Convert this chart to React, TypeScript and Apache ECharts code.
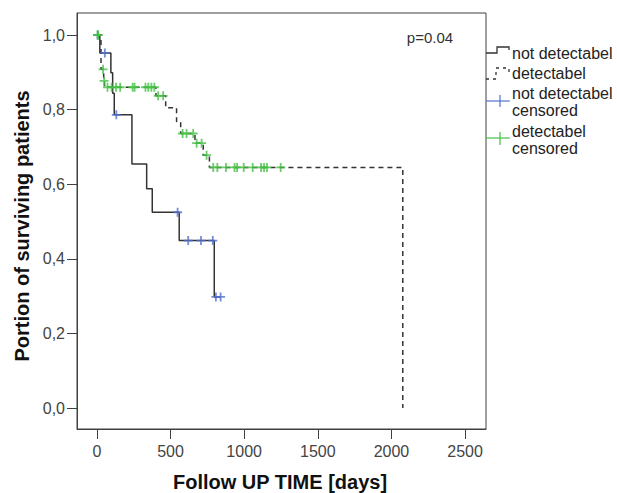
import React, { useEffect, useRef } from "react";
import * as echarts from "echarts";

// ---- data ----
const xTicks = [0, 500, 1000, 1500, 2000, 2500];
const yTicks = [0, 0.2, 0.4, 0.6, 0.8, 1.0];

// "not detectabel" group: step curve (time in days, survival after the step)
const notDetTimes = [0, 20, 95, 107, 118, 238, 338, 376, 559, 797, 840];
const notDetSurv = [1, 0.952, 0.899, 0.844, 0.786, 0.654, 0.588, 0.525, 0.449, 0.298, 0.298];
const notDetCensorTimes = [5, 54, 132, 548, 620, 707, 787, 808, 840];
const notDetCensorSurv = [1, 0.952, 0.786, 0.525, 0.449, 0.449, 0.449, 0.298, 0.298];

// "detectabel" group
const detTimes = [0, 28, 46, 52, 401, 467, 541, 569, 666, 722, 764, 2077];
const detSurv = [1, 0.908, 0.877, 0.86, 0.837, 0.805, 0.768, 0.736, 0.71, 0.678, 0.645, 0];
const detCensorTimes = [
  5, 9, 42, 49, 72, 100, 130, 158, 243, 256, 330, 349, 370, 390, 416, 450, 582, 609, 654,
  677, 711, 745, 790, 818, 876, 935, 952, 997, 1058, 1115, 1135, 1155, 1248,
];
const detCensorSurv = [
  1, 1, 0.908, 0.877, 0.86, 0.86, 0.86, 0.86, 0.86, 0.86, 0.86, 0.86, 0.86, 0.86, 0.837, 0.837,
  0.736, 0.736, 0.736, 0.71, 0.71, 0.678, 0.645, 0.645, 0.645, 0.645, 0.645, 0.645, 0.645,
  0.645, 0.645, 0.645, 0.645,
];

const pValue = "p=0.04";
const legendLabels = ["not detectabel", "detectabel", "not detectabel", "censored", "detectabel", "censored"];

const FONT = "'Liberation Sans', Arial, sans-serif";
const LINE = "#333333";
const BLUE = "#5070d0";
const GREEN = "#44c044";
const AXIS = "#404040";
const PLUS = "path://M4,0H6V4H10V6H6V10H4V6H0V4H4Z";

const zip = (a: number[], b: number[]) => a.map((v, i) => [v, b[i]]);

export default function App() {
  const ref = useRef<HTMLDivElement>(null);
  useEffect(() => {
    const chart = echarts.init(ref.current!, null, { renderer: "svg" });
    chart.setOption({
      animation: false,
      backgroundColor: "#ffffff",
      grid: {
        left: 77,
        top: 13,
        width: 409,
        height: 416,
        show: true,
        borderColor: AXIS,
        borderWidth: 1,
        backgroundColor: "transparent",
      },
      xAxis: {
        type: "value",
        min: -135,
        max: 2642,
        axisLine: { show: true, onZero: false, lineStyle: { color: AXIS, width: 1 } },
        axisTick: { show: true, length: 10, customValues: xTicks, lineStyle: { color: AXIS, width: 1 } },
        axisLabel: {
          customValues: xTicks,
          margin: 14,
          fontSize: 16,
          color: "#444",
          fontFamily: FONT,
          formatter: (v: number) => String(Math.round(v)),
        },
        splitLine: { show: false },
      },
      yAxis: {
        type: "value",
        min: -0.056,
        max: 1.059,
        axisLine: { show: true, onZero: false, lineStyle: { color: AXIS, width: 1 } },
        axisTick: { show: true, length: 10, customValues: yTicks, lineStyle: { color: AXIS, width: 1 } },
        axisLabel: {
          customValues: yTicks,
          margin: 12,
          fontSize: 16,
          color: "#444",
          fontFamily: FONT,
          formatter: (v: number) => v.toFixed(1).replace(".", ","),
        },
        splitLine: { show: false },
      },
      series: [
        {
          type: "line",
          step: "end",
          data: zip(notDetTimes, notDetSurv),
          showSymbol: false,
          symbol: "none",
          lineStyle: { color: LINE, width: 1.5 },
          z: 2,
        },
        {
          type: "line",
          step: "end",
          data: zip(detTimes, detSurv),
          showSymbol: false,
          symbol: "none",
          lineStyle: { color: LINE, width: 1.5, type: [5, 4] },
          z: 2,
        },
        {
          type: "scatter",
          data: zip(notDetCensorTimes, notDetCensorSurv),
          symbol: PLUS,
          symbolSize: 9,
          itemStyle: { color: BLUE },
          z: 3,
        },
        {
          type: "scatter",
          data: zip(detCensorTimes, detCensorSurv),
          symbol: PLUS,
          symbolSize: 9,
          itemStyle: { color: GREEN },
          z: 3,
        },
      ],
      graphic: [
        {
          type: "text",
          x: 22,
          y: 226,
          rotation: Math.PI / 2,
          style: {
            text: "Portion of surviving patients",
            font: `bold 20px ${FONT}`,
            fill: "#111",
            align: "center",
            verticalAlign: "middle",
          },
        },
        {
          type: "text",
          x: 280,
          y: 482,
          style: {
            text: "Follow UP TIME [days]",
            font: `bold 20px ${FONT}`,
            fill: "#111",
            align: "center",
            verticalAlign: "middle",
          },
        },
        {
          type: "text",
          x: 430,
          y: 37,
          style: { text: pValue, font: `15px ${FONT}`, fill: "#333", align: "center", verticalAlign: "middle" },
        },
        // legend item 1: solid step
        {
          type: "polyline",
          shape: { points: [[486, 53], [497, 53], [497, 47], [509, 47], [509, 50]] },
          style: { stroke: LINE, lineWidth: 1.3, fill: null },
        },
        {
          type: "text",
          x: 512,
          y: 53,
          style: { text: legendLabels[0], font: `16px ${FONT}`, fill: "#222", verticalAlign: "middle" },
        },
        // legend item 2: dashed step
        {
          type: "polyline",
          shape: { points: [[486, 79], [496, 79], [496, 68], [509, 68], [509, 74]] },
          style: { stroke: LINE, lineWidth: 1.3, fill: null, lineDash: [3, 4] },
        },
        {
          type: "text",
          x: 512,
          y: 73,
          style: { text: legendLabels[1], font: `16px ${FONT}`, fill: "#222", verticalAlign: "middle" },
        },
        // legend item 3: blue censor
        { type: "line", shape: { x1: 486, y1: 101, x2: 510, y2: 101 }, style: { stroke: BLUE, lineWidth: 1.2 } },
        { type: "line", shape: { x1: 500, y1: 95, x2: 500, y2: 107 }, style: { stroke: BLUE, lineWidth: 1.2 } },
        {
          type: "text",
          x: 512,
          y: 93,
          style: { text: legendLabels[2], font: `16px ${FONT}`, fill: "#222", verticalAlign: "middle" },
        },
        {
          type: "text",
          x: 512,
          y: 110,
          style: { text: legendLabels[3], font: `16px ${FONT}`, fill: "#222", verticalAlign: "middle" },
        },
        // legend item 4: green censor
        { type: "line", shape: { x1: 486, y1: 138, x2: 510, y2: 138 }, style: { stroke: GREEN, lineWidth: 1.2 } },
        { type: "line", shape: { x1: 500, y1: 132, x2: 500, y2: 145 }, style: { stroke: GREEN, lineWidth: 1.2 } },
        {
          type: "text",
          x: 512,
          y: 131,
          style: { text: legendLabels[4], font: `16px ${FONT}`, fill: "#222", verticalAlign: "middle" },
        },
        {
          type: "text",
          x: 512,
          y: 148,
          style: { text: legendLabels[5], font: `16px ${FONT}`, fill: "#222", verticalAlign: "middle" },
        },
      ],
    });
    return () => chart.dispose();
  }, []);
  return (
    <div
      ref={ref}
      style={{ position: "absolute", left: 0, top: 0, width: 617, height: 493, background: "#fff" }}
    />
  );
}
